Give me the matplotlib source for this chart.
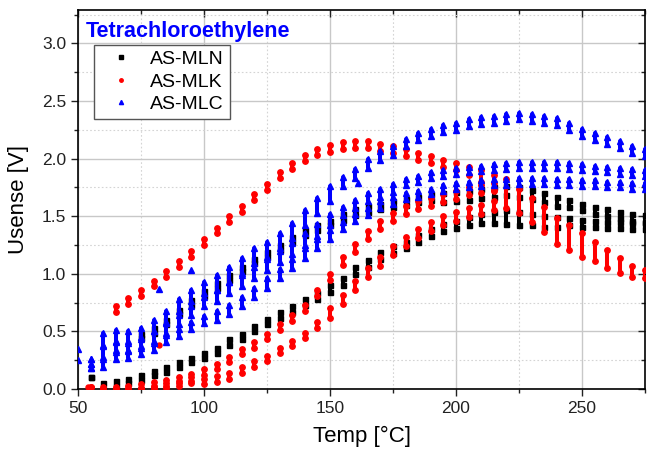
import numpy as np
import matplotlib
matplotlib.use("Agg")
import matplotlib.pyplot as plt
from matplotlib.lines import Line2D

plt.rcParams["font.family"] = ["Liberation Sans", "DejaVu Sans"]

nan = np.nan

# temperature steps of the sweep [°C]
temp = [55, 60, 65, 70, 75, 80, 85, 90, 95, 100, 105, 110, 115, 120, 125, 130, 135, 140, 145, 150,
        155, 160, 165, 170, 175, 180, 185, 190, 195, 200, 205, 210, 215, 220, 225, 230, 235, 240,
        245, 250, 255, 260, 265, 270, 275]

# AS-MLN (black), top of each cluster + cluster height
mln_low = [0.10, 0.05, 0.07, 0.09, 0.12, 0.16, 0.19, 0.23, 0.27, 0.31, 0.36, 0.43, 0.48, 0.55, 0.61,
           0.67, 0.72, 0.78, 0.83, 0.90, 0.96, 1.06, 1.12, 1.19, 1.24, 1.28, 1.34, 1.39, 1.43, 1.46,
           1.49, 1.52, 1.54, 1.55, 1.54, 1.52, 1.50, 1.49, 1.48, 1.47, 1.46, 1.45, 1.45, 1.44, 1.44]
mln_low_span = [0.0, 0.05, 0.04, 0.04, 0.04, 0.04, 0.04, 0.04, 0.04, 0.04, 0.05, 0.05, 0.05, 0.05, 0.05,
                0.05, 0.05, 0.05, 0.05, 0.06, 0.06, 0.06, 0.06, 0.06, 0.06, 0.06, 0.06, 0.06, 0.06, 0.06,
                0.07, 0.08, 0.10, 0.12, 0.12, 0.10, 0.09, 0.08, 0.06, 0.06, 0.05, 0.05, 0.05, 0.05, 0.05]
mln_high = [nan, nan, nan, nan, 0.48, 0.53, 0.60, 0.69, 0.77, 0.85, 0.92, 0.99, 1.06, 1.13, 1.19,
            1.25, 1.32, 1.38, 1.42, 1.46, 1.52, 1.56, 1.59, 1.61, 1.63, 1.65, 1.67, 1.69, 1.70, 1.71,
            1.72, 1.74, 1.75, 1.76, 1.75, 1.73, 1.70, 1.67, 1.64, 1.61, 1.58, 1.56, 1.54, 1.52, 1.51]
mln_high_span = [nan, nan, nan, nan, 0.04, 0.04, 0.04, 0.04, 0.04, 0.04, 0.04, 0.04, 0.04, 0.04, 0.04,
                 0.04, 0.04, 0.04, 0.04, 0.04, 0.05, 0.05, 0.05, 0.05, 0.05, 0.05, 0.05, 0.05, 0.08, 0.08,
                 0.08, 0.08, 0.08, 0.08, 0.08, 0.08, 0.08, 0.08, 0.06, 0.06, 0.06, 0.06, 0.06, 0.06, 0.06]

# AS-MLK (red)
mlk_top = [nan, nan, 0.72, 0.79, 0.86, 0.94, 1.02, 1.11, 1.20, 1.30, 1.40, 1.50, 1.59, 1.69, 1.78,
           1.88, 1.96, 2.03, 2.08, 2.12, 2.14, 2.15, 2.15, 2.13, 2.11, 2.08, 2.05, 2.02, 1.99, 1.96,
           1.93, 1.90, 1.86, 1.82, 1.74, 1.66, 1.58, 1.48, 1.42, 1.35, 1.28, 1.21, 1.14, 1.07, 1.03]
mlk_top_span = [nan, nan, 0.05, 0.05, 0.05, 0.05, 0.05, 0.05, 0.05, 0.05, 0.05, 0.05, 0.05, 0.05, 0.05,
                0.05, 0.05, 0.05, 0.05, 0.06, 0.06, 0.06, 0.06, 0.06, 0.06, 0.06, 0.06, 0.06, 0.06, 0.06,
                0.07, 0.10, 0.13, 0.25, 0.21, 0.21, 0.22, 0.22, 0.21, 0.20, 0.17, 0.16, 0.13, 0.10, 0.07]
mlk_mid = [nan, 0.02, 0.02, 0.03, 0.04, 0.06, 0.08, 0.10, 0.13, 0.17, 0.22, 0.28, 0.35, 0.41, 0.48,
           0.56, 0.64, 0.73, 0.86, 1.00, 1.15, 1.26, 1.37, 1.46, 1.53, 1.59, 1.63, 1.66, 1.69, 1.72,
           1.75, 1.77, 1.79, nan, nan, nan, nan, nan, nan, nan, nan, nan, nan, nan, nan]
mlk_mid_span = [nan, 0.03, 0.03, 0.03, 0.03, 0.03, 0.03, 0.03, 0.03, 0.05, 0.05, 0.05, 0.05, 0.05, 0.05,
                0.05, 0.05, 0.05, 0.05, 0.05, 0.07, 0.07, 0.07, 0.07, 0.07, 0.07, 0.07, 0.07, 0.07, 0.07,
                0.07, 0.07, 0.07, nan, nan, nan, nan, nan, nan, nan, nan, nan, nan, nan, nan]
mlk_low = [0.02, 0.0, 0.0, 0.0, 0.01, 0.02, 0.03, 0.05, 0.07, 0.09, 0.11, 0.14, 0.19, 0.24, 0.29,
           0.36, 0.42, 0.49, 0.58, 0.70, 0.82, 0.94, 1.05, 1.15, 1.24, 1.32, 1.39, 1.45, 1.50, 1.54,
           1.57, 1.60, 1.63, nan, nan, nan, nan, nan, nan, nan, nan, nan, nan, nan, nan]
mlk_low_span = [0.0, 0.02, 0.02, 0.02, 0.02, 0.02, 0.02, 0.02, 0.02, 0.05, 0.05, 0.05, 0.05, 0.05, 0.05,
                0.05, 0.05, 0.05, 0.05, 0.08, 0.08, 0.08, 0.08, 0.08, 0.08, 0.08, 0.08, 0.08, 0.08, 0.08,
                0.08, 0.08, 0.08, nan, nan, nan, nan, nan, nan, nan, nan, nan, nan, nan, nan]

# AS-MLC (blue)
mlc_top = [0.26, 0.49, 0.51, 0.50, 0.53, 0.60, 0.68, 0.78, 0.86, 0.93, 0.99, 1.06, 1.14, 1.22, 1.28,
           1.35, 1.44, 1.55, 1.66, 1.76, 1.84, 1.91, 2.00, 2.07, 2.11, 2.17, 2.22, 2.26, 2.29, 2.31,
           2.34, 2.36, 2.37, 2.39, 2.40, 2.39, 2.37, 2.35, 2.31, 2.26, 2.22, 2.19, 2.15, 2.11, 2.08]
mlc_top_span = [0.0, 0.12, 0.10, 0.10, 0.10, 0.10, 0.10, 0.10, 0.10, 0.10, 0.13, 0.13, 0.13, 0.13, 0.13,
                0.13, 0.13, 0.13, 0.13, 0.13, 0.08, 0.08, 0.08, 0.08, 0.08, 0.06, 0.06, 0.06, 0.06, 0.06,
                0.06, 0.06, 0.06, 0.06, 0.06, 0.06, 0.06, 0.06, 0.06, 0.06, 0.06, 0.06, 0.06, 0.06, 0.06]
mlc_mid = [0.22, 0.38, 0.42, 0.42, 0.45, 0.50, 0.57, 0.64, 0.72, 0.80, 0.86, 0.93, 0.99, 1.06, 1.13,
           1.20, 1.27, 1.35, 1.43, 1.52, 1.58, 1.64, 1.70, 1.74, 1.78, 1.82, 1.85, 1.88, 1.90, 1.92,
           1.93, 1.94, 1.95, 1.96, 1.97, 1.97, 1.97, 1.97, 1.96, 1.95, 1.94, 1.93, 1.92, 1.91, 1.90]
mlc_mid_span = [0.0, 0.10, 0.08, 0.08, 0.08, 0.08, 0.08, 0.08, 0.08, 0.08, 0.10, 0.10, 0.10, 0.10, 0.10,
                0.10, 0.10, 0.10, 0.10, 0.10, 0.07, 0.07, 0.07, 0.07, 0.07, 0.05, 0.05, 0.05, 0.05, 0.05,
                0.05, 0.05, 0.05, 0.05, 0.05, 0.05, 0.05, 0.05, 0.05, 0.05, 0.05, 0.05, 0.05, 0.05, 0.05]
mlc_low = [0.18, 0.26, 0.32, 0.33, 0.36, 0.40, 0.47, 0.52, 0.58, 0.63, 0.68, 0.73, 0.80, 0.88, 0.96,
           1.04, 1.13, 1.22, 1.30, 1.38, 1.45, 1.52, 1.57, 1.63, 1.67, 1.70, 1.72, 1.74, 1.77, 1.79,
           1.80, 1.81, 1.82, 1.82, 1.83, 1.83, 1.83, 1.82, 1.82, 1.81, 1.81, 1.80, 1.80, 1.79, 1.79]
mlc_low_span = [0.0, 0.07, 0.06, 0.06, 0.06, 0.06, 0.06, 0.06, 0.06, 0.06, 0.08, 0.08, 0.08, 0.08, 0.08,
                0.08, 0.08, 0.08, 0.08, 0.08, 0.06, 0.06, 0.06, 0.06, 0.06, 0.05, 0.05, 0.05, 0.05, 0.05,
                0.05, 0.05, 0.05, 0.05, 0.05, 0.05, 0.05, 0.05, 0.05, 0.05, 0.05, 0.05, 0.05, 0.05, 0.05]

# stray points
mlk_stray_t = [54, 82]
mlk_stray_v = [0.02, 0.38]
mlc_stray_t = [50, 50, 82, 95, 161]
mlc_stray_v = [0.35, 0.25, 0.87, 1.03, 1.79]


def clusters(ax, top, span, color, marker, ms):
    t = np.array(temp, dtype=float)
    top = np.array(top, dtype=float)
    lo = top - np.array(span, dtype=float)
    ok = np.isfinite(top)
    ax.vlines(t[ok], lo[ok], top[ok], colors=color, linewidth=2.9, capstyle="round", zorder=3)
    ax.plot(t[ok], top[ok], ls="none", marker=marker, ms=ms, color=color, mec=color, zorder=3)
    ax.plot(t[ok], lo[ok], ls="none", marker=marker, ms=ms, color=color, mec=color, zorder=3)


fig = plt.figure(figsize=(6.47, 4.54), dpi=100)
ax = fig.add_axes([0.1206, 0.1432, 0.8764, 0.8348])

blk, red, blu = "black", "#ff0000", "#0000ff"
clusters(ax, mln_low, mln_low_span, blk, "s", 3.6)
clusters(ax, mln_high, mln_high_span, blk, "s", 3.6)
clusters(ax, mlk_top, mlk_top_span, red, "o", 3.9)
clusters(ax, mlk_mid, mlk_mid_span, red, "o", 3.9)
clusters(ax, mlk_low, mlk_low_span, red, "o", 3.9)
ax.plot(mlk_stray_t, mlk_stray_v, ls="none", marker="o", ms=3.6, color=red, zorder=3)
clusters(ax, mlc_top, mlc_top_span, blu, "^", 4.4)
clusters(ax, mlc_mid, mlc_mid_span, blu, "^", 4.4)
clusters(ax, mlc_low, mlc_low_span, blu, "^", 4.4)
ax.plot(mlc_stray_t, mlc_stray_v, ls="none", marker="^", ms=4.0, color=blu, zorder=3)

ax.set_xlim(50, 275)
ax.set_ylim(0, 3.29)
ax.set_xticks([50, 100, 150, 200, 250])
ax.set_xticks([75, 125, 175, 225, 275], minor=True)
ax.set_yticks([0, 0.5, 1.0, 1.5, 2.0, 2.5, 3.0])
ax.set_yticklabels(["0.0", "0.5", "1.0", "1.5", "2.0", "2.5", "3.0"])
ax.set_yticks([0.25, 0.75, 1.25, 1.75, 2.25, 2.75, 3.25], minor=True)

ax.grid(which="major", color="#c8c8c8", linewidth=1.0, linestyle="-", zorder=0)
ax.grid(which="minor", color="#d4d4d4", linewidth=0.8, linestyle=(0, (1.5, 2)), zorder=0)
ax.set_axisbelow(True)

ax.tick_params(which="both", top=True, right=True, labelsize=12.5, colors="#222222")
ax.tick_params(which="major", length=5, width=1.0)
ax.tick_params(which="minor", length=3, width=1.0)
for s in ax.spines.values():
    s.set_linewidth(1.2)
# top/right ticks point inward, bottom/left outward
ax.xaxis.set_tick_params(which="both", direction="out")
ax.yaxis.set_tick_params(which="both", direction="out")
for t in ax.xaxis.get_major_ticks() + ax.xaxis.get_minor_ticks():
    t.tick2line.set_marker(3)
for t in ax.yaxis.get_major_ticks() + ax.yaxis.get_minor_ticks():
    t.tick2line.set_marker(0)

ax.set_xlabel("Temp [°C]", fontsize=16, labelpad=7)
ax.set_ylabel("Usense [V]", fontsize=16, labelpad=9)

ax.text(0.014, 0.929, "Tetrachloroethylene", transform=ax.transAxes, color=blu,
        fontsize=15.5, fontweight="bold", va="baseline", ha="left", zorder=5)

handles = [
    Line2D([], [], ls="none", marker="s", ms=2.5, color=blk),
    Line2D([], [], ls="none", marker="o", ms=2.5, color=red),
    Line2D([], [], ls="none", marker="^", ms=3.0, color=blu),
]
leg = ax.legend(handles, ["AS-MLN", "AS-MLK", "AS-MLC"], loc="upper left",
                bbox_to_anchor=(0.028, 0.908), borderaxespad=0, fontsize=14,
                handlelength=2.2, handletextpad=0.4, labelspacing=0.25,
                fancybox=False, framealpha=1, edgecolor="#555555", borderpad=0.3)
leg.get_frame().set_linewidth(1.0)
leg.set_zorder(6)

fig.savefig("out.png", dpi=100)
